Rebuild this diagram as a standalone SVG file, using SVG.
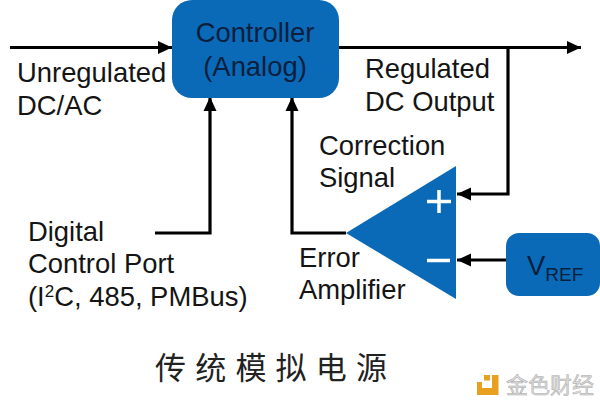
<svg xmlns="http://www.w3.org/2000/svg" width="600" height="405" viewBox="0 0 600 405">
<style>
text{font-family:"Liberation Sans",Arial,sans-serif;font-size:27.4px;fill:#141414}
.b{fill:#0a6ab8}
.n{fill:#0b1f3d}
.c{fill:none;stroke:#000;stroke-width:3.2}
.cjk{font-family:"Noto Sans CJK SC",sans-serif;font-size:31px;fill:#222;letter-spacing:9.2px}
.w{font-family:"Noto Sans CJK SC",sans-serif;font-size:22px;fill:#dcdcdc;stroke:#a8a8a8;stroke-width:.5}
</style>
<defs><marker id="a" markerUnits="userSpaceOnUse" markerWidth="14" markerHeight="14" refX="14" refY="7" orient="auto"><path d="M0 0.5L14 7L0 13.5Z" fill="#000"/></marker></defs>
<rect width="600" height="405" fill="#fff"/>
<g id="connectors">
<path class="c" d="M10 47.5H172" marker-end="url(#a)"/>
<path class="c" d="M337 47.5H581" marker-end="url(#a)"/>
<path class="c" d="M508 47.5V194H457" marker-end="url(#a)"/>
<path class="c" d="M155 233H210V97" marker-end="url(#a)"/>
<path class="c" d="M346 233H292V97" marker-end="url(#a)"/>
<path class="c" d="M507 260H457" marker-end="url(#a)"/>
</g>
<g id="controller">
<rect class="b" x="172" y="0" width="167" height="98" rx="20"/>
<text class="n" x="255" y="42" text-anchor="middle">Controller</text>
<text class="n" x="255" y="76" text-anchor="middle">(Analog)</text>
</g>
<g id="amplifier">
<path class="b" d="M346 233L456 166V299Z"/>
<path d="M439 190V213M427 201.500H451M427 260.500H450" fill="none" stroke="#fff" stroke-width="3.500"/>
</g>
<g id="vref">
<rect class="b" x="506" y="233" width="94" height="63" rx="13"/>
<text class="n" x="527" y="275">V<tspan font-size="19" dy="6">REF</tspan></text>
</g>
<g id="labels">
<text x="17" y="82">Unregulated</text>
<text x="17" y="115">DC/AC</text>
<text x="365" y="78">Regulated</text>
<text x="365" y="111">DC Output</text>
<text x="319" y="155">Correction</text>
<text x="319" y="187">Signal</text>
<text x="28" y="241">Digital</text>
<text x="28" y="273">Control Port</text>
<text x="28" y="306">(I<tspan font-size="17" dy="-9">2</tspan><tspan dy="9">C, 485, PMBus)</tspan></text>
<text x="299" y="267">Error</text>
<text x="299" y="299">Amplifier</text>
<text class="cjk" x="155" y="379">传统模拟电源</text>
</g>
<g id="watermark">
<path d="M477 382H482V388H492V375H498.500V395H477Z" fill="#e8a020"/><rect x="484" y="375" width="6" height="5.500" fill="#e8a020"/>
<text class="w" x="506" y="393">金色财经</text>
</g>
</svg>
